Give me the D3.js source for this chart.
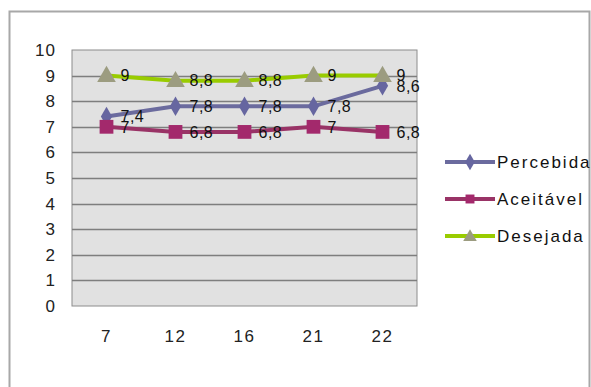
<!DOCTYPE html>
<html>
<head>
<meta charset="utf-8">
<script src="https://cdn.jsdelivr.net/npm/d3@7"></script>
<style>
  body { margin: 0; background: #fff; }
  svg { display: block; font-family: "Liberation Sans", Arial, sans-serif; }
</style>
</head>
<body>
<svg id="chart" width="591" height="387"></svg>
<script>
const categories = ["7", "12", "16", "21", "22"];
const percebida = [7.4, 7.8, 7.8, 7.8, 8.6];
const aceitavel = [7, 6.8, 6.8, 7, 6.8];
const desejada = [9, 8.8, 8.8, 9, 9];
const yTicks = [0, 1, 2, 3, 4, 5, 6, 7, 8, 9, 10];

const series = [
  { name: "Percebida", values: percebida, line: "#6b6b9e", marker: "#6666a0", shape: "diamond" },
  { name: "Aceitável", values: aceitavel, line: "#993366", marker: "#a3296c", shape: "square" },
  { name: "Desejada", values: desejada, line: "#99cc00", marker: "#9c9c80", shape: "triangle" }
];

const plot = { left: 72, top: 50, right: 417, bottom: 306 };
const svg = d3.select("#chart");

// outer chart border
svg.append("path")
  .attr("d", "M9.5,392 L9.5,11.5 L589.5,11.5 L589.5,392")
  .attr("fill", "none")
  .attr("stroke", "#a8a8a8")
  .attr("stroke-width", 2);

const x = d3.scaleBand().domain(categories).range([plot.left, plot.right]);
const y = d3.scaleLinear().domain([0, 10]).range([plot.bottom, plot.top]);
const cx = c => x(c) + x.bandwidth() / 2;

svg.append("rect")
  .attr("x", plot.left).attr("y", plot.top)
  .attr("width", plot.right - plot.left).attr("height", plot.bottom - plot.top)
  .attr("fill", "#e1e1e1")
  .attr("stroke", "#8c8c8c").attr("stroke-width", 1);

svg.append("g").selectAll("line").data(yTicks.slice(1, -1)).join("line")
  .attr("x1", plot.left).attr("x2", plot.right)
  .attr("y1", d => Math.round(y(d)) + 0.5).attr("y2", d => Math.round(y(d)) + 0.5)
  .attr("stroke", "#7e7e7e").attr("stroke-width", 1.3);

// y axis labels
const yAxis = d3.axisLeft(y).tickValues(yTicks).tickSize(0).tickPadding(16);
svg.append("g")
  .attr("transform", `translate(${plot.left},0)`)
  .call(yAxis)
  .call(g => g.select(".domain").remove())
  .selectAll("text")
  .attr("font-size", 17).attr("fill", "#222").attr("letter-spacing", 1)
  .attr("font-family", "'Liberation Sans', Arial, sans-serif");

// x axis labels
const xAxis = d3.axisBottom(x).tickSize(0).tickPadding(24);
svg.append("g")
  .attr("transform", `translate(0,${plot.bottom})`)
  .call(xAxis)
  .call(g => g.select(".domain").remove())
  .selectAll("text")
  .attr("font-size", 17).attr("fill", "#222").attr("letter-spacing", 1.5)
  .attr("font-family", "'Liberation Sans', Arial, sans-serif");

const symbolFor = shape => {
  if (shape === "diamond") return d3.symbol(d3.symbolDiamond, 110);
  if (shape === "square") return d3.symbol(d3.symbolSquare, 190);
  return d3.symbol(d3.symbolTriangle, 150);
};

const line = d3.line().x((v, i) => cx(categories[i])).y(v => y(v));
const fmt = v => String(v).replace(".", ",");

series.forEach(s => {
  const g = svg.append("g");
  g.append("path")
    .attr("d", line(s.values))
    .attr("fill", "none").attr("stroke", s.line).attr("stroke-width", 4);
  g.selectAll("path.m").data(s.values).join("path")
    .attr("class", "m")
    .attr("transform", (v, i) => `translate(${cx(categories[i])},${y(v) + (s.shape === "triangle" ? 1 : 0)})`)
    .attr("d", symbolFor(s.shape)())
    .attr("fill", s.marker);
});

series.forEach(s => {
  svg.append("g").selectAll("text").data(s.values).join("text")
    .attr("x", (v, i) => cx(categories[i]) + 14)
    .attr("y", v => y(v))
    .attr("dy", "0.36em")
    .attr("font-size", 16).attr("letter-spacing", 0.5)
    .attr("fill", "#111")
    .text(fmt);
});

// legend
const legend = svg.append("g").selectAll("g").data(series).join("g")
  .attr("transform", (s, i) => `translate(445,${162 + i * 37})`);
legend.append("line")
  .attr("x1", 0).attr("x2", 50)
  .attr("stroke", s => s.line).attr("stroke-width", 4);
legend.append("path")
  .attr("transform", s => `translate(25,${s.shape === "triangle" ? 1 : 0})`)
  .attr("d", s => d3.symbol(s.shape === "diamond" ? d3.symbolDiamond : s.shape === "square" ? d3.symbolSquare : d3.symbolTriangle, 80)())
  .attr("fill", s => s.marker);
legend.append("text")
  .attr("x", 52).attr("dy", "0.36em")
  .attr("font-size", 17).attr("letter-spacing", 2)
  .attr("fill", "#111")
  .text(s => s.name);
</script>
</body>
</html>
